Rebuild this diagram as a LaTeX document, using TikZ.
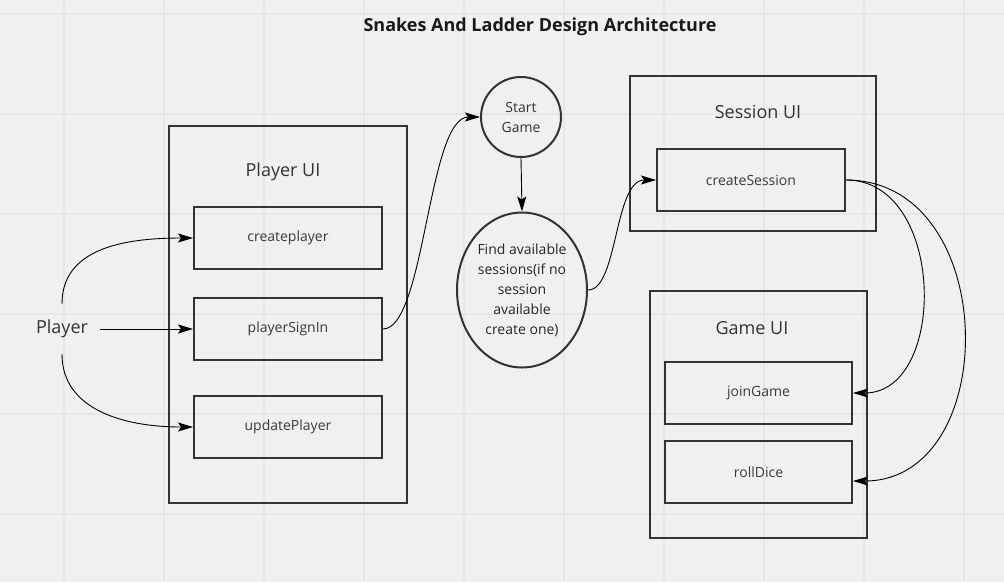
\documentclass[tikz,border=0pt]{standalone}
\usepackage{fontspec}
\setmainfont{Open Sans}
\usetikzlibrary{arrows.meta,shapes.geometric,calc}
\definecolor{bg}{HTML}{F0F0F0}
\definecolor{gridc}{HTML}{E7E7E7}
\definecolor{boxc}{HTML}{333333}
\definecolor{txtc}{HTML}{3A3A3A}
\begin{document}
\begin{tikzpicture}[x=1pt,y=-1pt,
  container/.style={draw=boxc,line width=2pt,rectangle,inner sep=0pt},
  opbox/.style={draw=boxc,line width=2pt,rectangle,minimum width=188pt,minimum height=62pt,inner sep=0pt,text=txtc,font=\fontsize{14}{16}\selectfont},
  biglabel/.style={text=boxc,font=\fontsize{18}{22}\selectfont,inner sep=0pt},
  conn/.style={draw=black,line width=0.9pt,-{Stealth[length=15pt,width=9pt,inset=3pt]}},
  ]
\fill[bg] (0,0) rectangle (1004,582);
\useasboundingbox (0,0) rectangle (1004,582);
\foreach \x in {64,164,...,964} \draw[gridc,line width=1.5pt] (\x,0) -- (\x,582);
\foreach \y in {14,114,...,514} \draw[gridc,line width=1.5pt] (0,\y) -- (1004,\y);

\node[text=black!90,font=\bfseries\fontsize{18}{22}\selectfont] (title) at (540,27) {Snakes And Ladder Design Architecture};

% Player UI
\node[container,minimum width=238pt,minimum height=377pt] (pui) at (288,314.5) {};
\node[biglabel] (puil) at (283,172) {Player UI};
\node[opbox] (cp) at (288,238) {createplayer};
\node[opbox] (psi) at (288,329) {playerSignIn};
\node[opbox] (up) at (288,427) {updatePlayer};

\node[biglabel,minimum height=50pt,inner xsep=12pt] (player) at (62,329) {Player};

% Start / find
\node[circle,draw=boxc,line width=2pt,minimum size=80pt,inner sep=0pt,align=center,text=boxc,font=\fontsize{14}{20}\selectfont] (start) at (521,117) {Start\\Game};
\node[ellipse,draw=boxc,line width=2pt,minimum width=130pt,minimum height=155pt,inner sep=0pt,align=center,text=black!85,font=\fontsize{14}{20}\selectfont] (find) at (522,290) {Find available\\sessions(if no\\session\\available\\create one)};

% Session UI
\node[container,minimum width=246pt,minimum height=155pt] (sui) at (753,153.5) {};
\node[biglabel] (suil) at (758,112) {Session UI};
\node[opbox] (cs) at (751,180) {createSession};

% Game UI
\node[container,minimum width=217pt,minimum height=247pt] (gui) at (758.5,414.5) {};
\node[biglabel] (guil) at (752,328) {Game UI};
\node[opbox,minimum width=187pt] (jg) at (758.5,393) {joinGame};
\node[opbox,minimum width=187pt] (rd) at (758.5,472) {rollDice};

% connectors
\draw[conn] (player.north) .. controls +(0,-55) and +(-70,0) .. (cp.west);
\draw[conn] (player.east) -- (psi.west);
\draw[conn] (player.south) .. controls +(0,55) and +(-70,0) .. (up.west);
\draw[conn] (psi.east) .. controls +(42,0) and +(-52,0) .. (start.west);
\draw[conn] (start.south) -- (find.north);
\draw[conn] (find.east) .. controls +(30,0) and +(-42,0) .. (cs.west);
\draw[conn] (cs.east) .. controls +(100,0) and +(95,0) .. (jg.east);
\draw[conn] (cs.east) .. controls +(155,0) and +(150,0) .. ([yshift=-9pt]rd.east);
\end{tikzpicture}
\end{document}
